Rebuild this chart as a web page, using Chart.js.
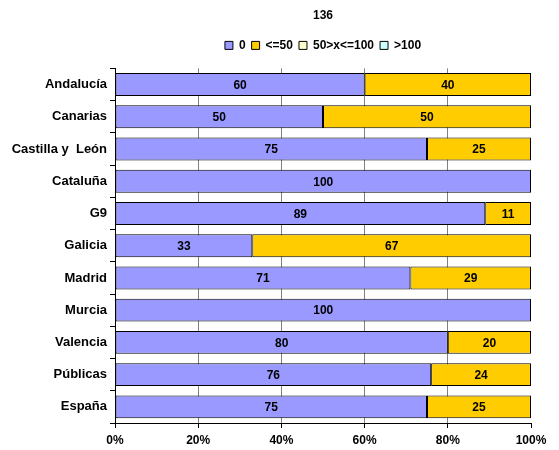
<!DOCTYPE html>
<html>
<head>
<meta charset="utf-8">
<script src="https://cdn.jsdelivr.net/npm/chart.js@4"></script>
<style>
  html, body { margin: 0; padding: 0; background: #fff; }
  #wrap { width: 559px; height: 450px; }
</style>
</head>
<body>
<div id="wrap"><canvas id="chartBars"></canvas></div>
<script>
const categories = ["Andalucía", "Canarias", "Castilla y  León", "Cataluña", "G9", "Galicia",
                    "Madrid", "Murcia", "Valencia", "Públicas", "España"];
const seriesNames = ["0", "<=50", "50>x<=100", ">100"];
const valsZero = [60, 50, 75, 100, 89, 33, 71, 100, 80, 76, 75];
const valsUpTo50 = [40, 50, 25, 0, 11, 67, 29, 0, 20, 24, 25];
const vals50to100 = [0, 0, 0, 0, 0, 0, 0, 0, 0, 0, 0];
const valsOver100 = [0, 0, 0, 0, 0, 0, 0, 0, 0, 0, 0];
const xTicks = ["0%", "20%", "40%", "60%", "80%", "100%"];

const colors = ["#9999FF", "#FFCC00", "#FFFFCC", "#CCFFFF"];
const FONT = "'Liberation Sans', Arial, sans-serif";

// draws the numbers in the middle of each segment (skips zeros)
const barLabels = {
    id: "barLabels",
    afterDatasetsDraw(chart) {
        const ctx = chart.ctx;
        ctx.save();
        ctx.font = "bold 12px " + FONT;
        ctx.fillStyle = "#000";
        ctx.textAlign = "center";
        ctx.textBaseline = "middle";
        chart.data.datasets.forEach((ds, i) => {
            const meta = chart.getDatasetMeta(i);
            meta.data.forEach((bar, j) => {
                const v = ds.data[j];
                if (!v) return;
                ctx.fillText(String(v), (bar.x + bar.base) / 2, bar.y + 1);
            });
        });
        ctx.restore();
    }
};

// a bit more room under the legend
const legendGap = {
    id: "legendGap",
    beforeInit(chart) {
        const fit = chart.legend.fit;
        chart.legend.fit = function () {
            fit.bind(chart.legend)();
            this.height += 7;
        };
    }
};

const allSeries = [valsZero, valsUpTo50, vals50to100, valsOver100];

const data = {
    labels: categories,
    datasets: allSeries.map((vals, i) => ({
        label: seriesNames[i],
        data: vals,
        backgroundColor: colors[i],
        borderColor: "#000",
        // no outline on empty segments
        borderWidth: (c) => (c.raw ? 1 : 0),
        borderSkipped: false,
        barPercentage: 0.71,
        categoryPercentage: 1
    }))
};

const config = {
    type: "bar",
    data: data,
    plugins: [barLabels, legendGap],
    options: {
        indexAxis: "y",
        responsive: true,
        maintainAspectRatio: false,
        animation: false,
        layout: { padding: { left: 0, right: 28, top: 0, bottom: 0 } },
        plugins: {
            title: {
                display: true,
                fullSize: false,
                text: "136",
                color: "#000",
                font: { family: FONT, size: 12, weight: "bold" },
                padding: { top: 8, bottom: 11 }
            },
            legend: {
                position: "top",
                fullSize: false,
                labels: {
                    color: "#000",
                    boxWidth: 8,
                    boxHeight: 8,
                    padding: 6,
                    font: { family: FONT, size: 12, weight: "bold" },
                    generateLabels(chart) {
                        return chart.data.datasets.map((ds, i) => ({
                            text: ds.label,
                            fillStyle: ds.backgroundColor,
                            strokeStyle: "#000",
                            lineWidth: 1,
                            fontColor: "#000",
                            datasetIndex: i
                        }));
                    }
                }
            },
            tooltip: { enabled: false }
        },
        scales: {
            x: {
                stacked: true,
                min: 0,
                max: 100,
                afterFit(scale) { scale.height = 27; },
                ticks: {
                    stepSize: 20,
                    color: "#000",
                    font: { family: FONT, size: 12, weight: "bold" },
                    padding: 5,
                    callback: (v, i) => xTicks[i]
                },
                grid: {
                    color: (c) => c.index === 5 ? "rgba(0,0,0,0)" : "#808080",
                    tickColor: "#000",
                    tickLength: 5
                },
                border: { display: true, color: "#000", width: 1 }
            },
            y: {
                stacked: true,
                afterFit(scale) { scale.width = 115; },
                ticks: {
                    color: "#000",
                    font: { family: FONT, size: 13, weight: "bold" },
                    padding: 3
                },
                grid: {
                    offset: true,
                    drawOnChartArea: false,
                    tickColor: "#000",
                    tickLength: 5
                },
                border: { display: true, color: "#000", width: 1 }
            }
        }
    }
};

const el = document.getElementById("chartBars");
if (el) {
    new Chart(el, config);
}
</script>
</body>
</html>
